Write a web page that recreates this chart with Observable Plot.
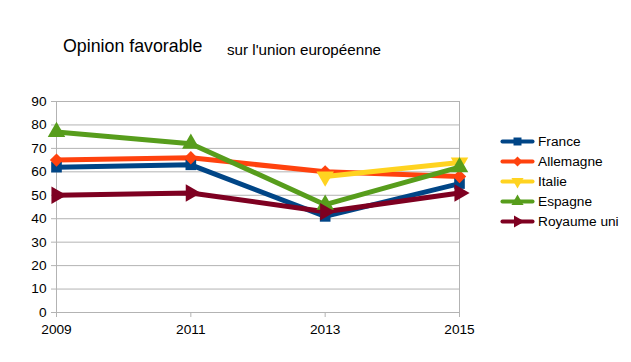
<!DOCTYPE html>
<html>
<head>
<meta charset="utf-8">
<script src="https://cdn.jsdelivr.net/npm/d3@7"></script>
<script src="https://cdn.jsdelivr.net/npm/@observablehq/plot@0.6"></script>
<style>
  html, body { margin: 0; padding: 0; background: #fff; }
  #wrap { position: relative; width: 631px; height: 362px; font-family: "Liberation Sans", Arial, sans-serif; color: #000; overflow: hidden; }
  #title { position: absolute; left: 63px; top: 38px; font-size: 17.8px; white-space: nowrap; line-height: 1; }
  #subtitle { position: absolute; left: 227px; top: 41.5px; font-size: 15.2px; white-space: nowrap; line-height: 1; }
  #chart { position: absolute; left: 0; top: 0; }
  #legend { position: absolute; left: 501px; top: 131px; font-size: 13.7px; }
  .item { display: flex; align-items: center; height: 20px; }
  .item svg { margin-right: 5px; }
</style>
</head>
<body>
<div id="wrap">
  <div id="chart"></div>
  <div id="title">Opinion favorable</div>
  <div id="subtitle">sur l'union européenne</div>
  <div id="legend"></div>
</div>
<script>
const years = [2009, 2011, 2013, 2015];
const seriesNames = ["France", "Allemagne", "Italie", "Espagne", "Royaume uni"];
const france = [62, 63, 41, 55];
const allemagne = [65, 66, 60, 58];
const italie = [null, null, 58, 64];
const espagne = [77, 72, 46, 62];
const royaumeUni = [50, 51, 43, 51];
const colors = ["#004586", "#ff420e", "#ffd320", "#579d1c", "#7e0021"];
const symbols = ["square", "diamond2", "triangle", "triangle", "triangle"];
const rotations = [0, 0, 180, 0, 90];
const yTicks = [0, 10, 20, 30, 40, 50, 60, 70, 80, 90];

const allValues = [france, allemagne, italie, espagne, royaumeUni];
const data = [];
seriesNames.forEach((name, i) => {
  years.forEach((yr, j) => {
    const v = allValues[i][j];
    if (v != null) data.push({series: name, year: yr, value: v, idx: i});
  });
});

const marks = [
  Plot.gridY(yTicks, {stroke: "#b3b3b3", strokeOpacity: 1, strokeWidth: 1}),
  Plot.axisY(yTicks, {tickSize: 5, tickPadding: 5, stroke: "#b3b3b3", fontSize: 13.7, fill: "#000", label: null}),
  Plot.axisX(years, {tickSize: 5, tickPadding: 7, stroke: "#b3b3b3", fontSize: 13.7, fill: "#000", label: null, tickFormat: d => String(d)}),
  Plot.ruleX([2009, 2015], {stroke: "#b3b3b3", y1: 0, y2: 90})
];
seriesNames.forEach((name, i) => {
  const d = data.filter(r => r.series === name);
  marks.push(Plot.line(d, {x: "year", y: "value", stroke: colors[i], strokeWidth: 5, strokeLinejoin: "miter"}));
});
seriesNames.forEach((name, i) => {
  const d = data.filter(r => r.series === name);
  marks.push(Plot.dot(d, {x: "year", y: "value", fill: colors[i], stroke: "none", symbol: symbols[i], r: symbols[i] === "triangle" ? 6.5 : 6, rotate: rotations[i]}));
});

const chart = Plot.plot({
  width: 490,
  height: 362,
  marginTop: 101,
  marginBottom: 50,
  marginLeft: 56,
  marginRight: 31,
  style: {fontFamily: "Liberation Sans, Arial, sans-serif", fontSize: "13.7px", background: "transparent", overflow: "visible"},
  x: {domain: [2009, 2015], axis: null},
  y: {domain: [0, 90], axis: null},
  marks
});
document.getElementById("chart").appendChild(chart);

const legend = document.getElementById("legend");
seriesNames.forEach((name, i) => {
  const item = document.createElement("div");
  item.className = "item";
  const sw = Plot.plot({
    width: 32, height: 14, margin: 0,
    x: {domain: [0, 1], axis: null}, y: {domain: [0, 1], axis: null},
    style: {background: "transparent", overflow: "visible"},
    marks: [
      Plot.line([[0.03, 0.5], [0.97, 0.5]], {stroke: colors[i], strokeWidth: 4}),
      Plot.dot([[0.5, 0.5]], {fill: colors[i], symbol: symbols[i], r: 4.5, rotate: rotations[i]})
    ]
  });
  item.appendChild(sw);
  const t = document.createElement("span");
  t.textContent = name;
  item.appendChild(t);
  legend.appendChild(item);
});
</script>
</body>
</html>
